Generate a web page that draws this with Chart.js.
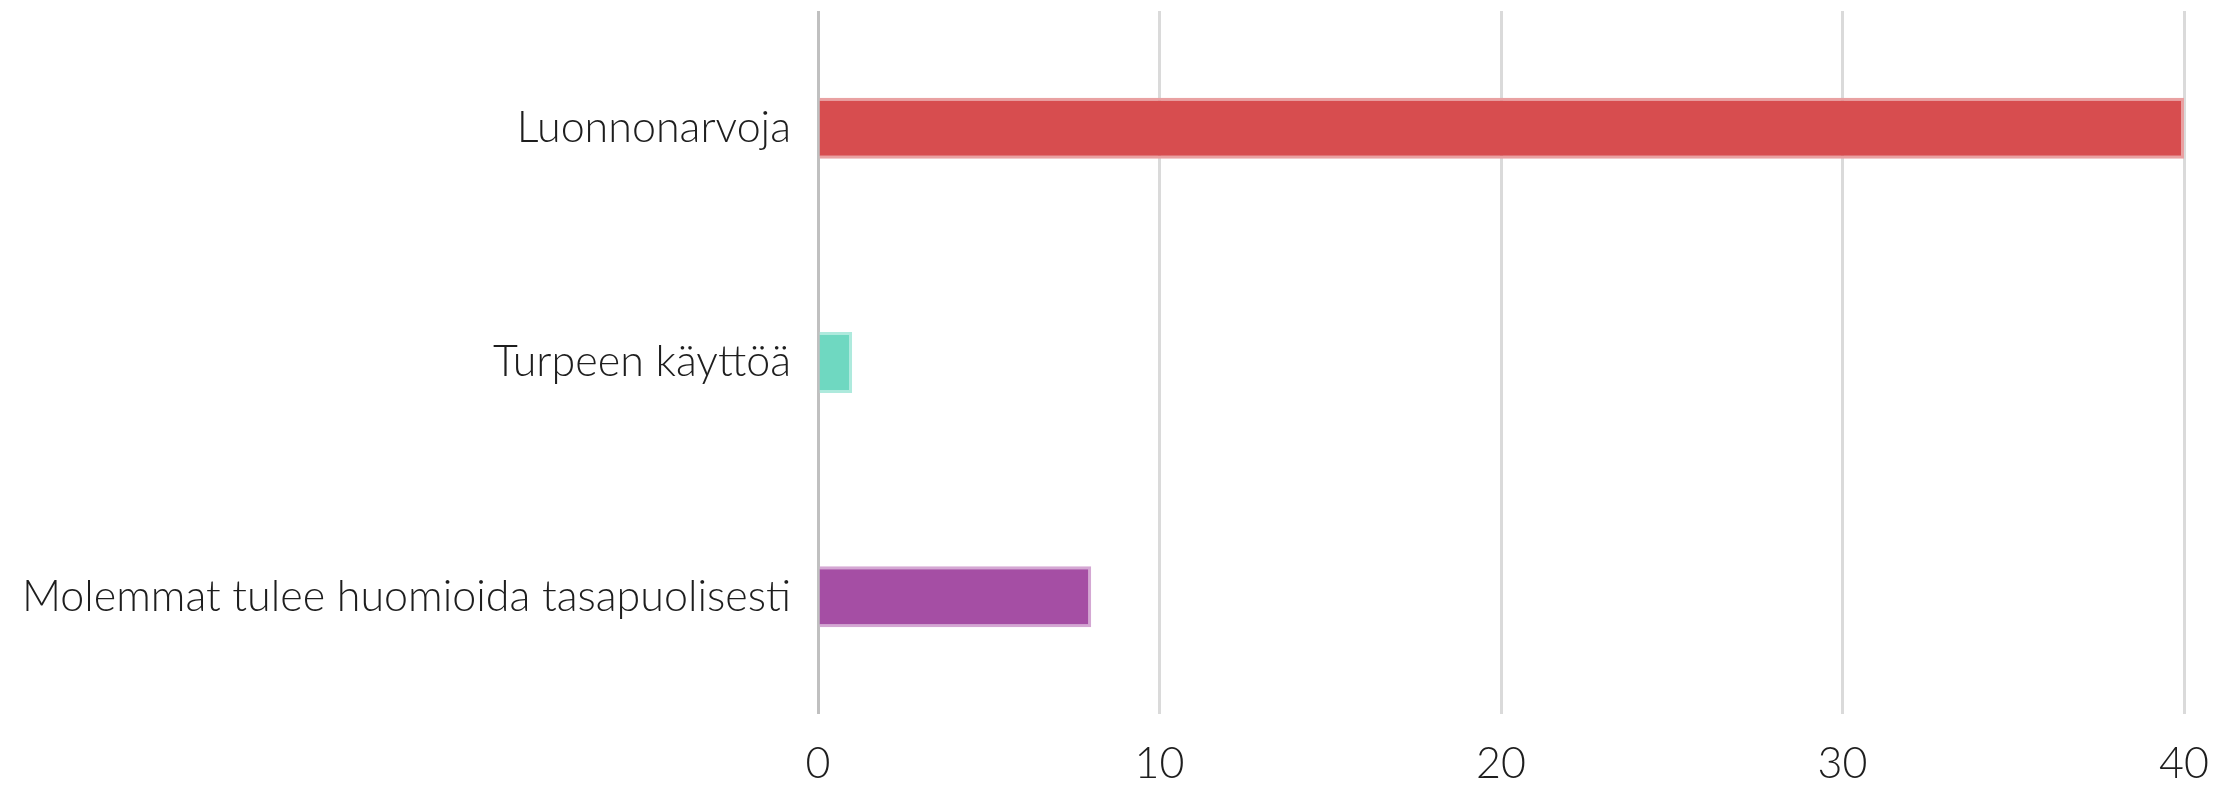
<!DOCTYPE html>
<html>
<head>
<meta charset="utf-8">
<script src="https://cdn.jsdelivr.net/npm/chart.js@4"></script>
<style>
  html, body { margin: 0; padding: 0; background: #fff; }
  canvas { display: block; }
</style>
</head>
<body>
<canvas id="barChart" width="2234" height="787"></canvas>
<script>
const categories = ["Luonnonarvoja", "Turpeen käyttöä", "Molemmat tulee huomioida tasapuolisesti"];
const counts = [40, 1, 8];
const fillColors = ["#d74d4f", "#6fd8c1", "#a54ea4"];
const edgeColors = ["#e9a1a2", "#aeeadd", "#d4a7d3"];

const labelFont = { family: "Lato, 'Open Sans', sans-serif", size: 43, weight: 300 };

document.addEventListener("DOMContentLoaded", function () {
  const ctx = document.getElementById("barChart").getContext("2d");

  new Chart(ctx, {
    type: "bar",
    data: {
      labels: categories,
      datasets: [{
        data: counts,
        backgroundColor: fillColors,
        borderColor: edgeColors,
        borderWidth: 3,
        borderSkipped: "start",
        categoryPercentage: 1,
        barPercentage: 0.26
      }]
    },
    options: {
      indexAxis: "y",
      responsive: false,
      animation: false,
      layout: { padding: { top: 11, right: 50, bottom: 0, left: 0 } },
      plugins: {
        legend: { display: false },
        tooltip: { enabled: false }
      },
      scales: {
        x: {
          min: 0,
          max: 40,
          border: { display: false },
          afterFit: (scale) => { scale.height = 73; },
          grid: {
            drawTicks: false,
            lineWidth: 3,
            color: (c) => c.tick && c.tick.value === 0 ? "#c0c0c0" : "#dadada"
          },
          ticks: {
            stepSize: 10,
            padding: 24,
            color: "#1e1e1e",
            font: labelFont
          }
        },
        y: {
          border: { display: false },
          grid: { display: false, drawTicks: false },
          afterFit: (scale) => {
            scale.width = 818;
            scale.paddingTop = 0;
            scale.paddingBottom = 0;
          },
          ticks: {
            padding: 27,
            color: "#1e1e1e",
            font: labelFont
          }
        }
      }
    }
  });
});
</script>
</body>
</html>
